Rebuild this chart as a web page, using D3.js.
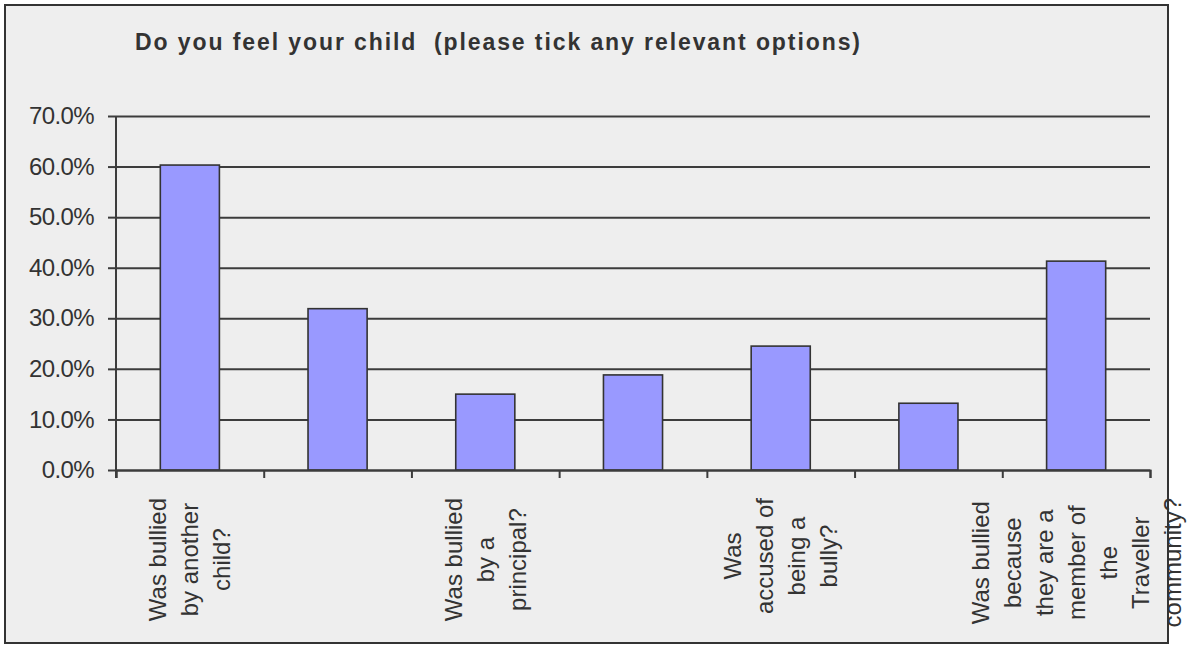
<!DOCTYPE html>
<html>
<head>
<meta charset="utf-8">
<script src="https://cdn.jsdelivr.net/npm/d3@7"></script>
<style>
  html, body { margin: 0; padding: 0; background: #ffffff; }
  svg { display: block; }
  text { font-family: "Liberation Sans", Arial, sans-serif; fill: #333333; }
</style>
</head>
<body>
<svg id="chart" width="1192" height="646"></svg>
<script>
// Survey responses: share of parents ticking each option
const categoryLines = [
  ["Was bullied", "by another", "child?"],
  [],
  ["Was bullied", "by a", "principal?"],
  [],
  ["Was", "accused of", "being a", "bully?"],
  [],
  ["Was bullied", "because", "they are a", "member of", "the", "Traveller", "community?"]
];
const values = [0.603, 0.319, 0.150, 0.188, 0.245, 0.132, 0.413];
const yTicks = [0, 0.1, 0.2, 0.3, 0.4, 0.5, 0.6, 0.7];
const titleText = "Do you feel your child  (please tick any relevant options)";

const svg = d3.select("#chart");

// chart frame
svg.append("rect")
  .attr("x", 5).attr("y", 5)
  .attr("width", 1163).attr("height", 638)
  .attr("fill", "#eeeeee")
  .attr("stroke", "#333333")
  .attr("stroke-width", 2);

// title
svg.append("text")
  .attr("x", 135).attr("y", 50)
  .attr("font-size", 23)
  .attr("font-weight", "bold")
  .attr("fill", "#3a3a3a")
  .attr("textLength", 725)
  .attr("lengthAdjust", "spacing")
  .style("white-space", "pre")
  .text(titleText);

const plot = { left: 116, right: 1150, top: 116, bottom: 470 };

const y = d3.scaleLinear().domain([0, 0.7]).range([plot.bottom, plot.top]);
const x = d3.scaleBand()
  .domain(d3.range(values.length))
  .range([plot.left, plot.right])
  .paddingInner(0.6)
  .paddingOuter(0.3);
const xEdge = d3.scaleLinear().domain([0, values.length]).range([plot.left, plot.right]);

// horizontal gridlines
const grid = svg.append("g")
  .attr("transform", `translate(${plot.left},0)`)
  .call(d3.axisLeft(y).tickValues(yTicks).tickSize(-(plot.right - plot.left)).tickFormat(""));
grid.select(".domain").remove();
grid.selectAll("line").attr("stroke", "#3c3c3c").attr("stroke-width", 2);

// bars
svg.append("g").selectAll("rect")
  .data(values)
  .join("rect")
  .attr("x", (d, i) => x(i))
  .attr("y", d => y(d))
  .attr("width", x.bandwidth())
  .attr("height", d => y(0) - y(d))
  .attr("fill", "#9999ff")
  .attr("stroke", "#333333")
  .attr("stroke-width", 1.6);

// y axis
const yAxis = svg.append("g")
  .attr("transform", `translate(${plot.left},0)`)
  .call(d3.axisLeft(y).tickValues(yTicks).tickSize(8).tickPadding(14).tickFormat(d3.format(".1%")));
yAxis.select(".domain").remove();
yAxis.selectAll("line").attr("stroke", "#3c3c3c").attr("stroke-width", 2);
yAxis.selectAll("text")
  .attr("font-size", 24)
  .attr("letter-spacing", -0.6)
  .attr("fill", "#333333")
  .style("font-family", "'Liberation Sans', Arial, sans-serif");

// y axis line extends down to the category tick
svg.append("line")
  .attr("x1", plot.left).attr("x2", plot.left)
  .attr("y1", plot.top).attr("y2", plot.bottom + 8)
  .attr("stroke", "#3c3c3c").attr("stroke-width", 2);

// x axis with ticks between categories
const xAxis = svg.append("g")
  .attr("transform", `translate(0,${plot.bottom})`)
  .call(d3.axisBottom(xEdge).tickValues(d3.range(values.length + 1)).tickSize(8).tickFormat(""));
xAxis.select(".domain").attr("stroke", "#3c3c3c").attr("stroke-width", 2);
xAxis.selectAll("line").attr("stroke", "#3c3c3c").attr("stroke-width", 2);

// rotated, wrapped category labels
const labelTop = 498;
const lineStep = 32;
categoryLines.forEach((lines, i) => {
  if (!lines.length) return;
  const cx = x(i) + x.bandwidth() / 2;
  const g = svg.append("g");
  const texts = g.selectAll("text")
    .data(lines)
    .join("text")
    .attr("font-size", 24)
    .attr("text-anchor", "middle")
    .text(d => d);
  const maxW = d3.max(texts.nodes(), n => n.getComputedTextLength());
  const cy = labelTop + maxW / 2;
  texts.attr("transform", (d, j) => {
    const bx = cx + (j - (lines.length - 1) / 2) * lineStep + 8.5;
    return `translate(${bx},${cy}) rotate(-90)`;
  });
});
</script>
</body>
</html>
